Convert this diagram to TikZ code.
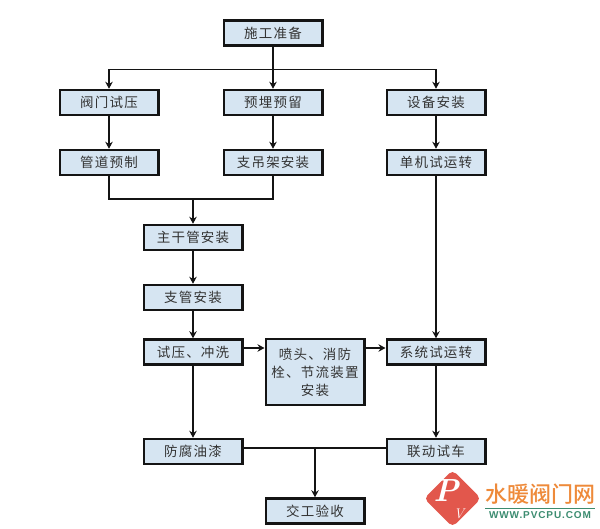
\documentclass[tikz,border=0pt]{standalone}
\usepackage{fontspec}
\usetikzlibrary{arrows.meta, calc}
\newfontfamily\cjk[LetterSpace=9]{Noto Sans CJK SC}
\newfontfamily\logofont{Noto Sans CJK SC Medium}
\newfontfamily\urlfont[LetterSpace=9]{Liberation Sans Bold}
\definecolor{boxfill}{HTML}{D6E5F2}
\definecolor{boxline}{HTML}{141414}
\definecolor{logored}{HTML}{E2574C}
\definecolor{logoorange}{HTML}{EE8A3A}
\definecolor{logogreen}{HTML}{3C8C70}
\tikzset{
  taskbox/.style={draw=boxline, line width=2.5pt, fill=boxfill, minimum width=98.5pt, minimum height=25pt,
    inner sep=0pt, text=black!80, font=\fontsize{13.5}{18}\selectfont\cjk},
  flow/.style={boxline, line width=1.6pt, -{Stealth[length=7pt, width=7.5pt]}},
  link/.style={boxline, line width=1.6pt}
}
\begin{document}
\begin{tikzpicture}[x=1pt, y=-1pt]
    \useasboundingbox (0,0) rectangle (600,529);

    % top row
    \node[taskbox] (zhunbei) at (273,33) {施工准备};
    \node[taskbox] (famen) at (109,102.5) {阀门试压};
    \node[taskbox] (yumai) at (273,102.5) {预埋预留};
    \node[taskbox] (shebei) at (436,102.5) {设备安装};
    \node[taskbox] (guandao) at (109,162.5) {管道预制};
    \node[taskbox] (zhijia) at (273,162.5) {支吊架安装};
    \node[taskbox] (danji) at (436,162.5) {单机试运转};

    % middle column
    \node[taskbox] (zhugan) at (193,237.5) {主干管安装};
    \node[taskbox] (zhiguan) at (193,297.5) {支管安装};
    \node[taskbox] (shiya) at (193,352) {试压、冲洗};
    \node[taskbox, minimum height=66pt, align=center] (pentou) at (315,372) {喷头、消防\\栓、节流装置\\安装};
    \node[taskbox] (xitong) at (436,352) {系统试运转};

    % bottom
    \node[taskbox] (fangfu) at (193,451.5) {防腐油漆};
    \node[taskbox] (liandong) at (436,451.5) {联动试车};
    \node[taskbox] (jiaogong) at (315,511) {交工验收};

    \coordinate (split) at (273,69.5);
    \coordinate (merge) at (193,199);
    \coordinate (join) at (315,448);

    \draw[flow] (zhunbei) -- (yumai);
    \draw[flow] (split) -| (famen);
    \draw[flow] (split) -| (shebei);
    \foreach \a/\b in {famen/guandao, yumai/zhijia, shebei/danji, danji/xitong, zhugan/zhiguan,
      zhiguan/shiya, shiya/fangfu, xitong/liandong} {
      \draw[flow] (\a) -- (\b);
    }
    \draw[link] (guandao) |- (merge);
    \draw[link] (zhijia) |- (merge);
    \draw[flow] (merge) -- (zhugan);

    % side arrows sit above the box centres
    \draw[flow] ([yshift=4pt]shiya.east) -- ([yshift=4pt]shiya.east -| pentou.west);
    \draw[flow] ([yshift=4pt]xitong.west -| pentou.east) -- ([yshift=4pt]xitong.west);
    \draw[link] ([yshift=3.5pt]fangfu.east) -- ([yshift=3.5pt]liandong.west);
    \draw[flow] (join) -- (jiaogong);

    % logo
    \fill[logored, rounded corners=5pt] (452.5,470) -- (481,498.5) -- (452.5,527) -- (424,498.5) -- cycle;
    \node[white, inner sep=0pt, font=\fontsize{32}{32}\selectfont\bfseries\itshape\rmfamily] (logop) at (446,491) {P};
    \node[white, inner sep=0pt, font=\fontsize{14}{14}\selectfont\itshape\rmfamily] (logov) at (459,514) {V};
    \node[logoorange, font=\fontsize{22}{22}\selectfont\logofont, inner sep=0pt] (logoname) at (540,494.5) {水暖阀门网};
    \fill[logogreen] (485,507.5) rectangle (595,509);
    \node[logogreen, font=\fontsize{10}{10}\selectfont\urlfont, inner sep=0pt] (logourl) at (540,515) {WWW.PVCPU.COM};
\end{tikzpicture}
\end{document}
